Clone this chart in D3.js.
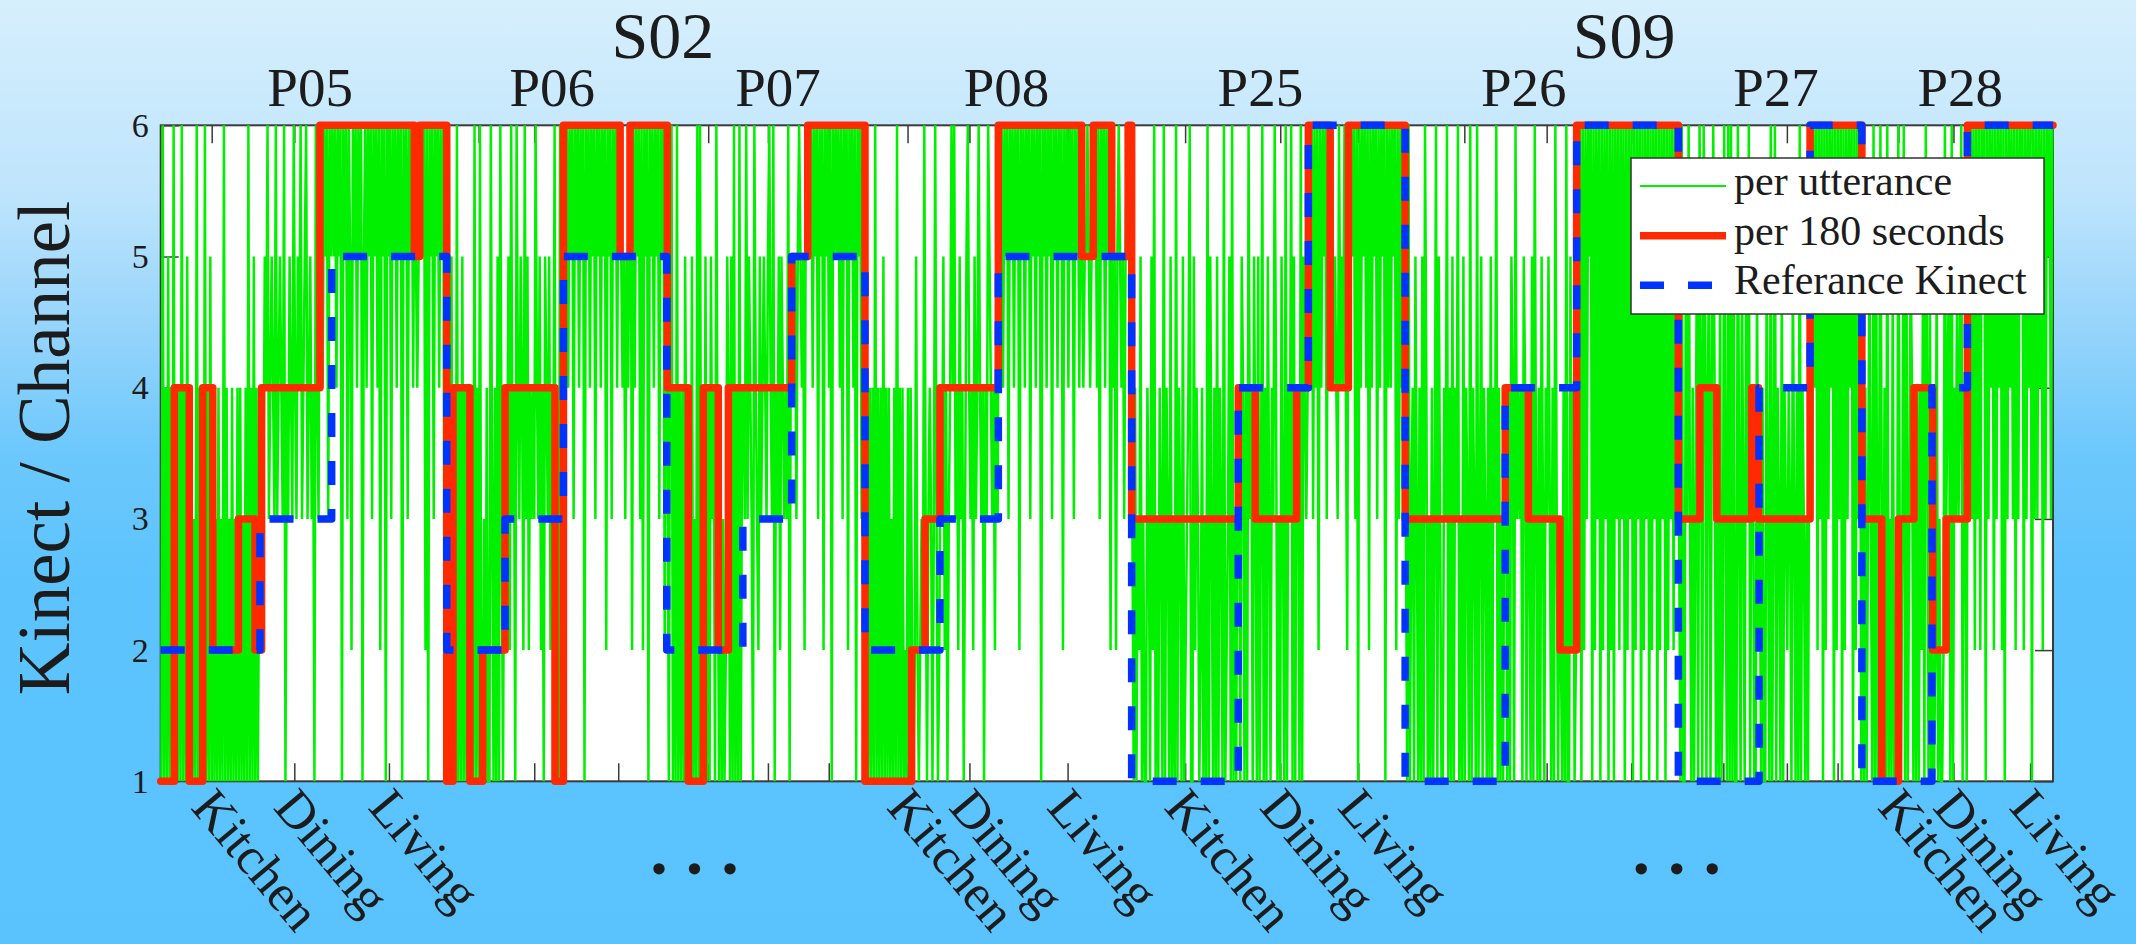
<!DOCTYPE html>
<html>
<head>
<meta charset="utf-8">
<script src="https://cdn.jsdelivr.net/npm/d3@7"></script>
<style>
  html, body { margin: 0; padding: 0; overflow: hidden; }
  svg { display: block; }
</style>
</head>
<body>
<svg id="chart" width="2136" height="944"></svg>
<script>
// ---- data ---------------------------------------------------------------
// y axis: Kinect / channel index
const channelTicks = [1, 2, 3, 4, 5, 6];

// x axis runs over utterance index of the concatenated speaker streams
const totalUtterances = 694;

const sessions = ["S02", "S09"];
const sessionCenters = [184.2, 536.7];

const speakers = ["P05", "P06", "P07", "P08", "P25", "P26", "P27", "P28"];
const speakerCenters = [54.8, 143.6, 226.4, 310.2, 403.3, 499.9, 592.4, 660];

const rooms = ["Kitchen", "Dining", "Living"];
// one tick per speaker and room (Kitchen, Dining, Living)
const roomTicks = [18.7, 49.0, 83.7, 116.6, 137.0, 167.8, 200.8, 222.7, 245.0,
                   273.9, 296.6, 332.6, 375.7, 410.6, 439.2, 478.1, 508.3, 539.3,
                   573.1, 596.4, 615.0, 637.3, 657.5, 685.6];
const labelledSpeakers = ["P05", "P08", "P25", "P28"];
const ellipsisCenters = [195.8, 556];

// Reference Kinect: one value per speaker/room segment
const refBreaks = [0, 36.4, 62.7, 104.9, 126.3, 147.7, 185.6, 213.5, 231.4, 258.3,
                   285.8, 307.2, 356.1, 395.2, 420.9, 456.4, 493.1, 519.3, 556.6,
                   586.2, 604.9, 623.9, 649.6, 662.6];
const refChannel = [2, 3, 5, 2, 3, 5, 2, 3, 5, 2, 3, 5,
                    1, 4, 6, 1, 4, 6, 1, 4, 6, 1, 4, 6];

// Selected channel per 180-second window
const winBreaks = [0, 5, 10.5, 15.4, 19.1, 28.5, 34.6, 37.0, 58.4, 93,
                   95, 104.9, 107.2, 113.4, 118.1, 126.3, 144.6, 147.7, 168.5, 172.1,
                   185.8, 193.5, 199, 204.5, 208.2, 231.4, 237.3, 258.3, 275.4, 280.3,
                   285.8, 307.2, 337.8, 342, 348.8, 354.8, 356.1, 395.2, 401.4, 416.6,
                   420.9, 428.9, 435.6, 456.4, 493.1, 501.6, 513.2, 519.3, 556.6, 564.5,
                   570.7, 583.5, 586, 604.9, 623.9, 631.2, 637.3, 643, 649.9, 654.8,
                   662.6];
const winChannel = [1, 4, 1, 4, 2, 3, 2, 4, 6, 5,
                    6, 1, 4, 1, 2, 4, 1, 6, 5, 6,
                    4, 1, 4, 2, 4, 5, 6, 1, 2, 3,
                    4, 6, 5, 6, 5, 6, 3, 4, 3, 4,
                    6, 4, 6, 3, 4, 3, 2, 6, 3, 4,
                    3, 4, 3, 6, 3, 1, 3, 4, 2, 3,
                    6];

// Selected channel per utterance, one string per speaker/room segment
const uttChannels = [
  // S02 P05 kitchen / dining / living
  "1614151416" + "14141614151" + "1413161413" + "1614151" + "4131413161413141314" + "141314161415" + "1413",
  "2" + "4354634543" + "6345436143" + "5436435463" + "4563453416" + "436" + "64656365",
  "6564656165" + "6365265646" + "5615646563" + "6564626561" + "6563656465" + "6165636564" + "6" +
    "5455" + "6562616563" + "656465616",
  // S02 P06
  "16151" + "416141514143" + "131614161" + "13141163141516314",
  "4352634164" + "3542635243" + "4364352415" + "4352436" + "131611",
  "6564656365" + "6465616564" + "6563656465" + "6265636564" + "65" + "5453545" +
    "6264656362" + "6561656465" + "6365626",
  // S02 P07
  "415614161414153" + "14151316161" + "41514153416" + "31413125" + "41516141614",
  "4363543164" + "3253454356" + "4361435254" + "343615",
  "545356545265" + "6564656365" + "6265646165" + "6564636562" + "6564616563" + "65",
  // S02 P08
  "1414141614" + "1415141413" + "1416141412" + "1414" + "2125212326" + "31343136312",
  "4352413464" + "6342534135" + "6434253464" + "3414365434" + "253",
  "6564656365" + "6465626564" + "6563656465" + "6165646563" + "6564656265" + "6465636564" + "6" +
    "54556545" + "65646365646562" + "545256545356" + "656",
  // S09 P25
  "3141325131" + "1431526131" + "4316143151" + "3161431512" + "3461152431" + "2413161531" +
    "4151431612" + "35161314",
  "415414163415" + "3151361415" + "3143641315" + "3161436151" + "4" + "41615434",
  "6463646264656364" + "4645436454642" + "6465636164" + "6564626465" + "6364656164" +
    "6465626364" + "65",
  // S09 P26
  "3161341531" + "4151641314" + "1361531143" + "6141514361" + "3151431614" + "3161351431" +
    "4151436141" + "314",
  "41415416343415414" + "3151631415" + "3143531416" + "313" + "214161152412",
  "6361626365" + "6162636162" + "6361626163" + "6263616263" + "6162636162" + "6361626361" +
    "6263616263" + "62636",
  // S09 P27
  "3161153631413516" + "416514514641" + "3151263161" + "6151163153" + "153614" + "41152",
  "3141153161" + "3614315143" + "2431531416" + "1431314",
  "6364626361" + "6263646162" + "6361626364" + "61626361",
  // S09 P28
  "314135316151363" + "141613151216" + "31361513541" + "4141425164151",
  "2125131126" + "3451614353461431",
  "6463626362" + "6561636462" + "6364626163" + "6463626365" + "6263646163" + "6364626365" + "636"
];

// ---- layout -------------------------------------------------------------
const W = 2136, H = 944;
const plot = { left: 160.7, right: 2053, top: 125.3, bottom: 781.3 };
const serif = "'Liberation Serif', 'Times New Roman', serif";
const ink = "#1c1c1c";
const axisColor = "#3a3a3a";
const green = "#00f000", red = "#ff2a00", blue = "#0033ff";

const svg = d3.select("#chart");

const x = d3.scaleLinear().domain([0, totalUtterances]).range([plot.left, plot.right]);
const y = d3.scaleLinear().domain([1, 6]).range([plot.bottom, plot.top]);

// background gradient
const defs = svg.append("defs");
const grad = defs.append("linearGradient").attr("id", "bg")
  .attr("x1", 0).attr("y1", 0).attr("x2", 0).attr("y2", 1);
[[0, "#d6effd"], [0.2, "#bfe5fc"], [0.34, "#98d5fb"], [0.48, "#6cc8fc"],
 [0.62, "#5cc3fd"], [1, "#5ac3fd"]].forEach(([o, c]) =>
  grad.append("stop").attr("offset", o).attr("stop-color", c));
svg.append("rect").attr("width", W).attr("height", H).attr("fill", "url(#bg)");

// plot area
svg.append("rect")
  .attr("x", plot.left).attr("y", plot.top)
  .attr("width", plot.right - plot.left).attr("height", plot.bottom - plot.top)
  .attr("fill", "#ffffff");

// ticks (drawn beneath the data)
const tickLen = 18;
const xAxisBottom = d3.axisBottom(x).tickValues(roomTicks).tickSize(-tickLen).tickFormat("");
const xAxisTop = d3.axisTop(x).tickValues(roomTicks).tickSize(-tickLen).tickFormat("");
const yAxisLeft = d3.axisLeft(y).tickValues(channelTicks).tickSize(-tickLen).tickFormat("");
const yAxisRight = d3.axisRight(y).tickValues(channelTicks).tickSize(-tickLen).tickFormat("");

function styleAxis(g) {
  g.selectAll(".domain").remove();
  g.selectAll(".tick line").attr("stroke", axisColor).attr("stroke-width", 1.5);
}
svg.append("g").attr("transform", `translate(0,${plot.bottom})`).call(xAxisBottom).call(styleAxis);
svg.append("g").attr("transform", `translate(0,${plot.top})`).call(xAxisTop).call(styleAxis);
svg.append("g").attr("transform", `translate(${plot.left},0)`).call(yAxisLeft).call(styleAxis);
svg.append("g").attr("transform", `translate(${plot.right},0)`).call(yAxisRight).call(styleAxis);

// axes box
svg.append("rect")
  .attr("x", plot.left).attr("y", plot.top)
  .attr("width", plot.right - plot.left).attr("height", plot.bottom - plot.top)
  .attr("fill", "none").attr("stroke", axisColor).attr("stroke-width", 2);

// ---- per utterance line -------------------------------------------------
const uttPoints = [];
uttChannels.forEach((s, k) => {
  const start = refBreaks[k];
  const end = k + 1 < refBreaks.length ? refBreaks[k + 1] : totalUtterances;
  const n = s.length;
  for (let j = 0; j < n; j++) {
    uttPoints.push([start + (j + 0.5) * (end - start) / n, +s[j]]);
  }
});
svg.append("path")
  .datum(uttPoints)
  .attr("fill", "none")
  .attr("stroke", green)
  .attr("stroke-width", 2.5)
  .attr("d", d3.line().x(d => x(d[0])).y(d => y(d[1])));

// ---- per 180 seconds step line -----------------------------------------
const winPoints = winBreaks.map((b, i) => [b, winChannel[i]]);
winPoints.push([totalUtterances, winChannel[winChannel.length - 1]]);
svg.append("path")
  .datum(winPoints)
  .attr("fill", "none")
  .attr("stroke", red)
  .attr("stroke-width", 7.5)
  .attr("stroke-linejoin", "round")
  .attr("stroke-linecap", "round")
  .attr("d", d3.line().x(d => x(d[0])).y(d => y(d[1])).curve(d3.curveStepAfter));

// ---- reference Kinect dashed step line ---------------------------------
const refPoints = refBreaks.map((b, i) => [b, refChannel[i]]);
refPoints.push([totalUtterances, refChannel[refChannel.length - 1]]);
svg.append("path")
  .datum(refPoints)
  .attr("fill", "none")
  .attr("stroke", blue)
  .attr("stroke-width", 7.5)
  .attr("stroke-dasharray", "24 24")
  .attr("stroke-linejoin", "round")
  .attr("d", d3.line().x(d => x(d[0])).y(d => y(d[1])).curve(d3.curveStepAfter));

// ---- text ---------------------------------------------------------------
// y tick labels
svg.append("g").selectAll("text").data(channelTicks).join("text")
  .attr("x", plot.left - 12)
  .attr("y", d => y(d) + 11.5)
  .attr("text-anchor", "end")
  .attr("font-family", serif).attr("font-size", 34).attr("fill", ink)
  .text(d => d);

// y axis title
svg.append("text")
  .attr("transform", "translate(69,448) rotate(-90)")
  .attr("text-anchor", "middle")
  .attr("font-family", serif).attr("font-size", 73).attr("fill", ink)
  .text("Kinect / Channel");

// session titles
svg.append("g").selectAll("text").data(sessions).join("text")
  .attr("x", (d, i) => x(sessionCenters[i]))
  .attr("y", 58)
  .attr("text-anchor", "middle")
  .attr("font-family", serif).attr("font-size", 66).attr("fill", ink)
  .text(d => d);

// speaker titles
svg.append("g").selectAll("text").data(speakers).join("text")
  .attr("x", (d, i) => x(speakerCenters[i]))
  .attr("y", 106)
  .attr("text-anchor", "middle")
  .attr("font-family", serif).attr("font-size", 55).attr("fill", ink)
  .text(d => d);

// room labels under the ticks of the labelled speakers
const roomLabels = [];
speakers.forEach((sp, si) => {
  if (!labelledSpeakers.includes(sp)) return;
  rooms.forEach((r, ri) => roomLabels.push({ pos: roomTicks[si * 3 + ri], text: r }));
});
svg.append("g").selectAll("text").data(roomLabels).join("text")
  .attr("transform", d => `translate(${x(d.pos) - 22},808) rotate(50)`)
  .attr("font-family", serif).attr("font-size", 52).attr("fill", ink)
  .text(d => d.text);

// ellipses for the speakers without room labels
svg.append("g").selectAll("text").data(ellipsisCenters).join("text")
  .attr("x", d => x(d) + 9)
  .attr("y", 874)
  .attr("text-anchor", "middle")
  .attr("font-family", serif).attr("font-size", 70).attr("font-weight", "bold")
  .attr("letter-spacing", 18).attr("fill", ink)
  .text("...");

// ---- legend -------------------------------------------------------------
const legend = svg.append("g").attr("transform", "translate(1631,158)");
legend.append("rect").attr("width", 413).attr("height", 156)
  .attr("fill", "#ffffff").attr("stroke", "#333333").attr("stroke-width", 1.5);
const legendItems = [
  { label: "per utterance", color: green, width: 2, dash: null },
  { label: "per 180 seconds", color: red, width: 7.5, dash: null },
  { label: "Referance Kinect", color: blue, width: 7.5, dash: "24 24" }
];
const rowY = [28, 77.7, 127.3];
legendItems.forEach((it, i) => {
  legend.append("line")
    .attr("x1", 9).attr("x2", 95).attr("y1", rowY[i]).attr("y2", rowY[i])
    .attr("stroke", it.color).attr("stroke-width", it.width)
    .attr("stroke-dasharray", it.dash);
  legend.append("text")
    .attr("x", 103).attr("y", rowY[i] + 9)
    .attr("font-family", serif).attr("font-size", 42).attr("fill", ink)
    .text(it.label);
});
</script>
</body>
</html>
